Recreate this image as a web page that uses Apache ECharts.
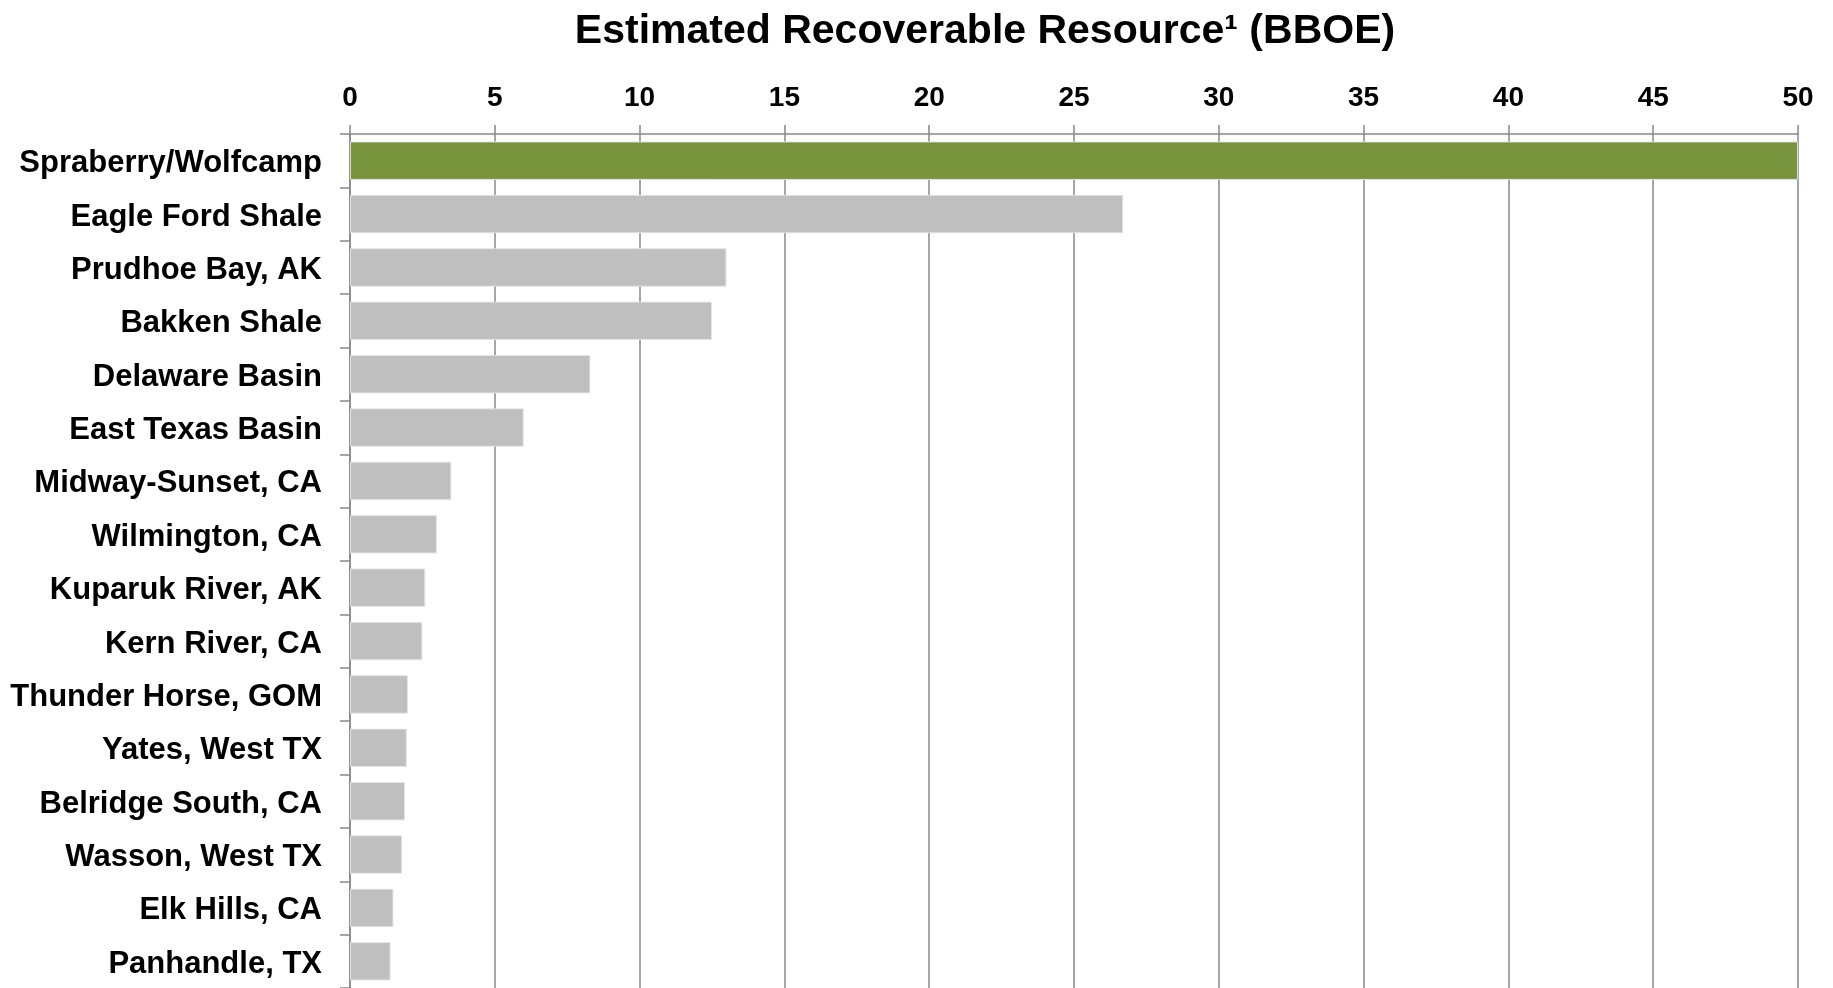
<!DOCTYPE html>
<html>
<head>
<meta charset="utf-8">
<script src="https://cdn.jsdelivr.net/npm/echarts@6/dist/echarts.min.js"></script>
<style>
html,body{margin:0;padding:0;background:#fff;}
#chart{width:1833px;height:988px;}
</style>
</head>
<body>
<div id="chart"></div>
<script>
const titleText = "Estimated Recoverable Resource¹ (BBOE)";
const categories = [
  "Spraberry/Wolfcamp", "Eagle Ford Shale", "Prudhoe Bay, AK", "Bakken Shale",
  "Delaware Basin", "East Texas Basin", "Midway-Sunset, CA", "Wilmington, CA",
  "Kuparuk River, AK", "Kern River, CA", "Thunder Horse, GOM", "Yates, West TX",
  "Belridge South, CA", "Wasson, West TX", "Elk Hills, CA", "Panhandle, TX"
];
const values = [50, 26.7, 13.0, 12.5, 8.3, 6.0, 3.5, 3.0, 2.6, 2.5, 2.0, 1.96, 1.9, 1.8, 1.5, 1.4];
const highlightIndex = 0;
const xMin = 0, xMax = 50, xStep = 5;

const FONT = "'Liberation Sans', Arial, sans-serif";
const chart = echarts.init(document.getElementById('chart'));
chart.setOption({
  animation: false,
  backgroundColor: '#ffffff',
  title: {
    text: titleText,
    left: 980, top: 6, textAlign: 'center',
    textStyle: { fontFamily: FONT, fontWeight: 'bold', fontSize: 41, color: '#000' }
  },
  grid: { left: 350, width: 1448, top: 134, height: 857, containLabel: false },
  xAxis: {
    type: 'value', position: 'top', min: xMin, max: xMax, interval: xStep,
    axisLine: { show: true, lineStyle: { color: '#888', width: 1.5 } },
    axisTick: { show: true, inside: false, length: 9, lineStyle: { color: '#888', width: 1.5 } },
    splitLine: { show: true, lineStyle: { color: '#888', width: 1.5 } },
    axisLabel: { margin: 22, fontFamily: FONT, fontWeight: 'bold', fontSize: 28, color: '#000' }
  },
  yAxis: {
    type: 'category', data: categories, inverse: true,
    axisLine: { show: true, lineStyle: { color: '#888', width: 1.5 } },
    axisTick: { show: true, inside: false, length: 10, lineStyle: { color: '#888', width: 1.5 } },
    axisLabel: {
      margin: 28,
      formatter: v => '{c|' + v + '}',
      rich: { c: { padding: [6, 0, 0, 0], fontFamily: FONT, fontWeight: 'bold', fontSize: 31, color: '#000' } }
    }
  },
  series: [{
    type: 'bar',
    barCategoryGap: '28%',
    data: values.map((v, i) => ({
      value: v,
      itemStyle: { color: i === highlightIndex ? '#77933C' : '#BFBFBF' }
    })),
    itemStyle: { borderColor: 'rgba(230,230,230,0.9)', borderWidth: 1 }
  }]
});
</script>
</body>
</html>
